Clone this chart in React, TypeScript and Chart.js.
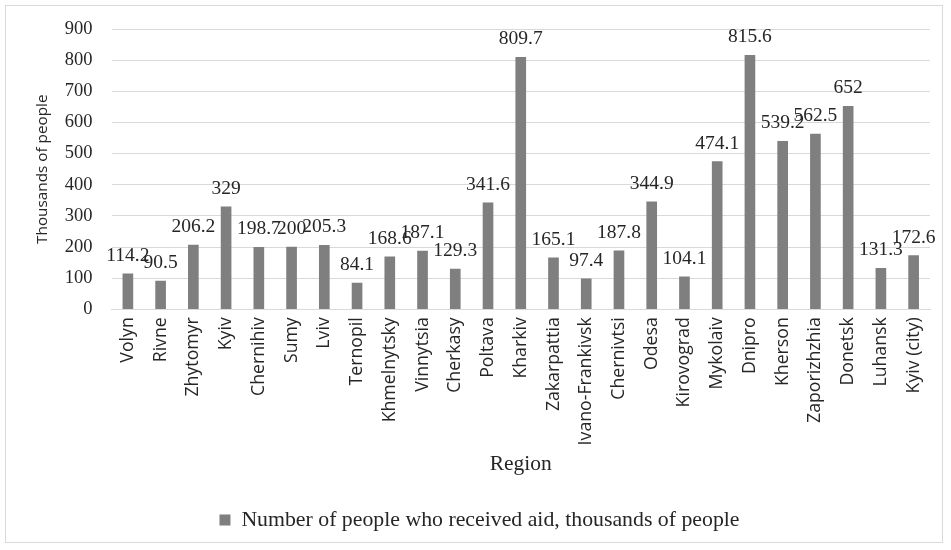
import React, { useEffect, useRef } from "react";
import { Chart, registerables } from "chart.js";
Chart.register(...registerables);

const regions = [
  "Volyn", "Rivne", "Zhytomyr", "Kyiv", "Chernihiv", "Sumy", "Lviv", "Ternopil",
  "Khmelnytsky", "Vinnytsia", "Cherkasy", "Poltava", "Kharkiv", "Zakarpattia",
  "Ivano-Frankivsk", "Chernivtsi", "Odesa", "Kirovograd", "Mykolaiv", "Dnipro",
  "Kherson", "Zaporizhzhia", "Donetsk", "Luhansk", "Kyiv (city)",
];
const aidValues = [
  114.2, 90.5, 206.2, 329, 198.7, 200, 205.3, 84.1, 168.6, 187.1, 129.3, 341.6,
  809.7, 165.1, 97.4, 187.8, 344.9, 104.1, 474.1, 815.6, 539.2, 562.5, 652, 131.3, 172.6,
];
const seriesLabel = "Number of people who received aid, thousands of people";

const serif = "'Liberation Serif', 'Times New Roman', serif";
const sans = "'Open Sans', 'Liberation Sans', sans-serif";

const labelPlugin = {
  id: "valueLabels",
  afterDatasetsDraw(chart: any) {
    const ctx = chart.ctx;
    const meta = chart.getDatasetMeta(0);
    ctx.save();
    ctx.font = `19.5px ${serif}`;
    ctx.fillStyle = "#262626";
    ctx.textAlign = "center";
    ctx.textBaseline = "alphabetic";
    meta.data.forEach((bar: any, i: number) => {
      ctx.fillText(String(aidValues[i]), bar.x, bar.y - 13);
    });
    ctx.restore();
  },
};

export default function App() {
  const ref = useRef<HTMLCanvasElement>(null);
  useEffect(() => {
    const chart = new Chart(ref.current!, {
      type: "bar",
      data: {
        labels: regions,
        datasets: [
          {
            label: seriesLabel,
            data: aidValues,
            backgroundColor: "#7f7f7f",
            barThickness: 10,
          },
        ],
      },
      options: {
        animation: false,
        responsive: true,
        maintainAspectRatio: false,
        layout: { padding: { left: 23, right: 12, top: 17, bottom: 1 } },
        plugins: {
          legend: {
            position: "bottom",
            labels: {
              font: { family: serif, size: 21.8 },
              color: "#262626",
              boxWidth: 11,
              boxHeight: 11,
              padding: 8,
            },
          },
          tooltip: { enabled: false },
        },
        scales: {
          x: {
            grid: { display: false },
            border: { color: "#d9d9d9" },
            ticks: {
              font: { family: sans, size: 17.7 },
              color: "#262626",
              minRotation: 90,
              maxRotation: 90,
              autoSkip: false,
              padding: 0,
            },
            title: {
              display: true,
              text: "Region",
              font: { family: serif, size: 21.5 },
              color: "#262626",
              padding: { top: 6, bottom: 24 },
            },
          },
          y: {
            min: 0,
            max: 900,
            afterFit: (scale: any) => {
              scale.width = 82.5;
            },
            grid: {
              color: "#d9d9d9",
              drawTicks: true,
              tickLength: 7,
              tickColor: "rgba(0,0,0,0)",
            },
            border: { display: false },
            ticks: {
              stepSize: 100,
              font: { family: serif, size: 18.5 },
              color: "#262626",
              padding: 12,
            },
            title: {
              display: true,
              text: "Thousands of people",
              font: { family: sans, size: 15.3 },
              color: "#262626",
              padding: { top: 4, bottom: 1 },
            },
          },
        },
      },
      plugins: [labelPlugin],
    });
    return () => chart.destroy();
  }, []);
  return (
    <div
      style={{
        position: "fixed",
        left: 0,
        top: 0,
        width: 951,
        height: 550,
        background: "#fff",
      }}
    >
      <div
        style={{
          position: "absolute",
          left: 5,
          top: 5,
          width: 938,
          height: 538,
          border: "1px solid #d9d9d9",
          boxSizing: "border-box",
        }}
      >
        <canvas ref={ref} />
      </div>
    </div>
  );
}
